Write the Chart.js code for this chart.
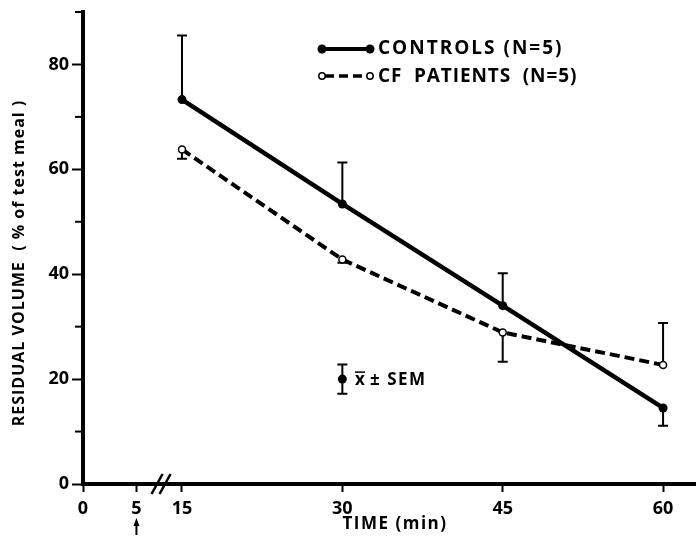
<!DOCTYPE html>
<html>
<head>
<meta charset="utf-8">
<script src="https://cdn.jsdelivr.net/npm/chart.js@4.4.1/dist/chart.umd.min.js"></script>
<style>
  html, body { margin: 0; padding: 0; background: #fff; overflow: hidden; }
  #wrap { width: 696px; height: 538px; position: relative; }
</style>
</head>
<body>
<div id="wrap"><canvas id="chart"></canvas></div>
<script>
const timePoints = [15, 30, 45, 60];
const controlsMean = [73.3, 53.4, 34.0, 14.5];
const controlsSem = [12.2, 7.9, 6.2, 3.4];
const controlsSemSide = [1, 1, 1, -1];
const cfMean = [63.8, 42.8, 28.9, 22.7];
const cfSem = [1.8, 0.6, 5.6, 8.0];
const cfSemSide = [-1, -1, -1, 1];
const xTickLabels = [0, 5, 15, 30, 45, 60];
const yTickLabels = [0, 20, 40, 60, 80];
const yMinorTicks = [10, 30, 50, 70, 90];
const semKey = { time: 30, mean: 20, sem: 2.8 };

// the axis is broken between 5 and 15 min, so later times are shifted left
const BREAK_START = 5;
const BREAK_CUT = 5.74;
function toAxis(t) { return t > BREAK_START ? t - BREAK_CUT : t; }

const FONT = "'Open Sans', 'DejaVu Sans', sans-serif";

const overlay = {
    id: 'overlay',
    beforeDatasetsDraw(chart) {
        const ctx = chart.ctx;
        const x = chart.scales.x;
        const y = chart.scales.y;
        const groups = [
            [controlsMean, controlsSem, controlsSemSide],
            [cfMean, cfSem, cfSemSide]
        ];
        ctx.save();
        ctx.strokeStyle = '#000';
        ctx.lineWidth = 2;
        groups.forEach(([mean, sem, side]) => {
            timePoints.forEach((t, i) => {
                const px = x.getPixelForValue(toAxis(t));
                const y0 = y.getPixelForValue(mean[i]);
                const y1 = y.getPixelForValue(mean[i] + side[i] * sem[i]);
                ctx.beginPath();
                ctx.moveTo(px, y0);
                ctx.lineTo(px, y1);
                ctx.moveTo(px - 5, y1);
                ctx.lineTo(px + 5, y1);
                ctx.stroke();
            });
        });
        ctx.restore();
    },
    afterDraw(chart) {
        const ctx = chart.ctx;
        const x = chart.scales.x;
        const y = chart.scales.y;
        const left = chart.chartArea.left;
        const bottom = chart.chartArea.bottom;

        ctx.save();
        ctx.strokeStyle = '#000';
        ctx.fillStyle = '#000';

        // minor ticks on the y axis
        ctx.lineWidth = 2;
        yMinorTicks.forEach(v => {
            const py = y.getPixelForValue(v);
            ctx.beginPath();
            ctx.moveTo(left - 8, py);
            ctx.lineTo(left, py);
            ctx.stroke();
        });

        // axis break marks
        const bx = x.getPixelForValue(7.3);
        ctx.lineWidth = 2.5;
        [-4, 4].forEach(off => {
            ctx.beginPath();
            ctx.moveTo(bx + off - 5.5, bottom + 10);
            ctx.lineTo(bx + off + 5.5, bottom - 10);
            ctx.stroke();
        });

        // arrow under 5 min
        const ax = x.getPixelForValue(5);
        ctx.lineWidth = 2;
        ctx.beginPath();
        ctx.moveTo(ax, 524);
        ctx.lineTo(ax, 535);
        ctx.stroke();
        ctx.beginPath();
        ctx.moveTo(ax, 518);
        ctx.lineTo(ax - 3, 526);
        ctx.lineTo(ax + 3, 526);
        ctx.closePath();
        ctx.fill();

        // legend
        ctx.lineWidth = 4;
        ctx.beginPath();
        ctx.moveTo(322, 49);
        ctx.lineTo(370, 49);
        ctx.stroke();
        [322, 370].forEach(px => {
            ctx.beginPath();
            ctx.arc(px, 49, 4.5, 0, Math.PI * 2);
            ctx.fill();
        });
        ctx.lineWidth = 3.5;
        ctx.setLineDash([9, 5]);
        ctx.beginPath();
        ctx.moveTo(325, 76);
        ctx.lineTo(367, 76);
        ctx.stroke();
        ctx.setLineDash([]);
        ctx.lineWidth = 1.5;
        [322, 370].forEach(px => {
            ctx.beginPath();
            ctx.arc(px, 76, 3.2, 0, Math.PI * 2);
            ctx.fillStyle = '#fff';
            ctx.fill();
            ctx.stroke();
        });
        ctx.fillStyle = '#000';
        ctx.font = 'bold 19px ' + FONT;
        ctx.letterSpacing = '2px';
        ctx.textAlign = 'left';
        ctx.textBaseline = 'middle';
        ctx.fillText('CONTROLS (N=5)', 378, 49);
        ctx.letterSpacing = '0.9px';
        ctx.fillText('CF  PATIENTS  (N=5)', 378, 77);

        // mean +/- SEM key
        const kx = x.getPixelForValue(toAxis(semKey.time));
        const kTop = y.getPixelForValue(semKey.mean + semKey.sem);
        const kBot = y.getPixelForValue(semKey.mean - semKey.sem);
        const kMid = y.getPixelForValue(semKey.mean);
        ctx.lineWidth = 2;
        ctx.beginPath();
        ctx.moveTo(kx, kTop);
        ctx.lineTo(kx, kBot);
        ctx.moveTo(kx - 5, kTop);
        ctx.lineTo(kx + 5, kTop);
        ctx.moveTo(kx - 5, kBot);
        ctx.lineTo(kx + 5, kBot);
        ctx.stroke();
        ctx.beginPath();
        ctx.arc(kx, kMid, 4.5, 0, Math.PI * 2);
        ctx.fill();
        ctx.font = 'bold 17px ' + FONT;
        ctx.letterSpacing = '1.5px';
        ctx.fillText('x', 355, kMid + 1);
        ctx.lineWidth = 1.5;
        ctx.beginPath();
        ctx.moveTo(355, kMid - 7);
        ctx.lineTo(365, kMid - 7);
        ctx.stroke();
        ctx.fillText('± SEM', 370, kMid + 1);

        // axis titles
        ctx.font = 'bold 17px ' + FONT;
        ctx.letterSpacing = '1.5px';
        ctx.textAlign = 'center';
        ctx.fillText('TIME (min)', 395, 524);

        ctx.translate(19, 263);
        ctx.rotate(-Math.PI / 2);
        ctx.font = 'bold 16px ' + FONT;
        ctx.letterSpacing = '1px';
        ctx.fillText('RESIDUAL VOLUME  ( % of test meal )', 0, 0);
        ctx.restore();
    }
};

const ctx = document.getElementById('chart').getContext('2d');
const chart = new Chart(ctx, {
    type: 'line',
    data: {
        datasets: [
            {
                label: 'CONTROLS (N=5)',
                data: timePoints.map((t, i) => ({ x: toAxis(t), y: controlsMean[i] })),
                borderColor: '#000',
                backgroundColor: '#000',
                borderWidth: 4.5,
                pointRadius: 4.5,
                pointBackgroundColor: '#000',
                pointBorderWidth: 0,
                tension: 0
            },
            {
                label: 'CF PATIENTS (N=5)',
                data: timePoints.map((t, i) => ({ x: toAxis(t), y: cfMean[i] })),
                borderColor: '#000',
                backgroundColor: '#fff',
                borderWidth: 4,
                borderDash: [10, 5],
                pointRadius: 3.5,
                pointBackgroundColor: '#fff',
                pointBorderColor: '#000',
                pointBorderWidth: 1.5,
                tension: 0
            }
        ]
    },
    options: {
        responsive: true,
        maintainAspectRatio: false,
        animation: false,
        devicePixelRatio: 1,
        layout: {
            autoPadding: false,
            padding: { top: 12, right: 0, left: 0, bottom: 0 }
        },
        plugins: {
            legend: { display: false },
            tooltip: { enabled: false }
        },
        scales: {
            x: {
                type: 'linear',
                min: 0,
                max: 57.34,
                afterBuildTicks: (scale) => {
                    scale.ticks = xTickLabels.map(t => ({ value: toAxis(t) }));
                },
                afterFit: (scale) => {
                    scale.height = 54;
                    scale.paddingLeft = 0;
                    scale.paddingRight = 0;
                },
                border: { display: true, color: '#000', width: 4 },
                grid: {
                    drawOnChartArea: false,
                    drawTicks: true,
                    tickLength: 8,
                    tickColor: '#000',
                    tickWidth: 2
                },
                ticks: {
                    autoSkip: false,
                    maxRotation: 0,
                    padding: 6,
                    color: '#000',
                    font: { family: FONT, size: 18, weight: 'bold' },
                    callback: (value, index) => xTickLabels[index]
                }
            },
            y: {
                min: 0,
                max: 90,
                afterBuildTicks: (scale) => {
                    scale.ticks = yTickLabels.map(v => ({ value: v }));
                },
                afterFit: (scale) => {
                    scale.width = 83;
                    scale.paddingTop = 0;
                    scale.paddingBottom = 0;
                },
                border: { display: true, color: '#000', width: 4 },
                grid: {
                    drawOnChartArea: false,
                    drawTicks: true,
                    tickLength: 11,
                    tickColor: '#000',
                    tickWidth: 2
                },
                ticks: {
                    padding: 3,
                    color: '#000',
                    font: { family: FONT, size: 18, weight: 'bold' }
                }
            }
        }
    },
    plugins: [overlay]
});
</script>
</body>
</html>
